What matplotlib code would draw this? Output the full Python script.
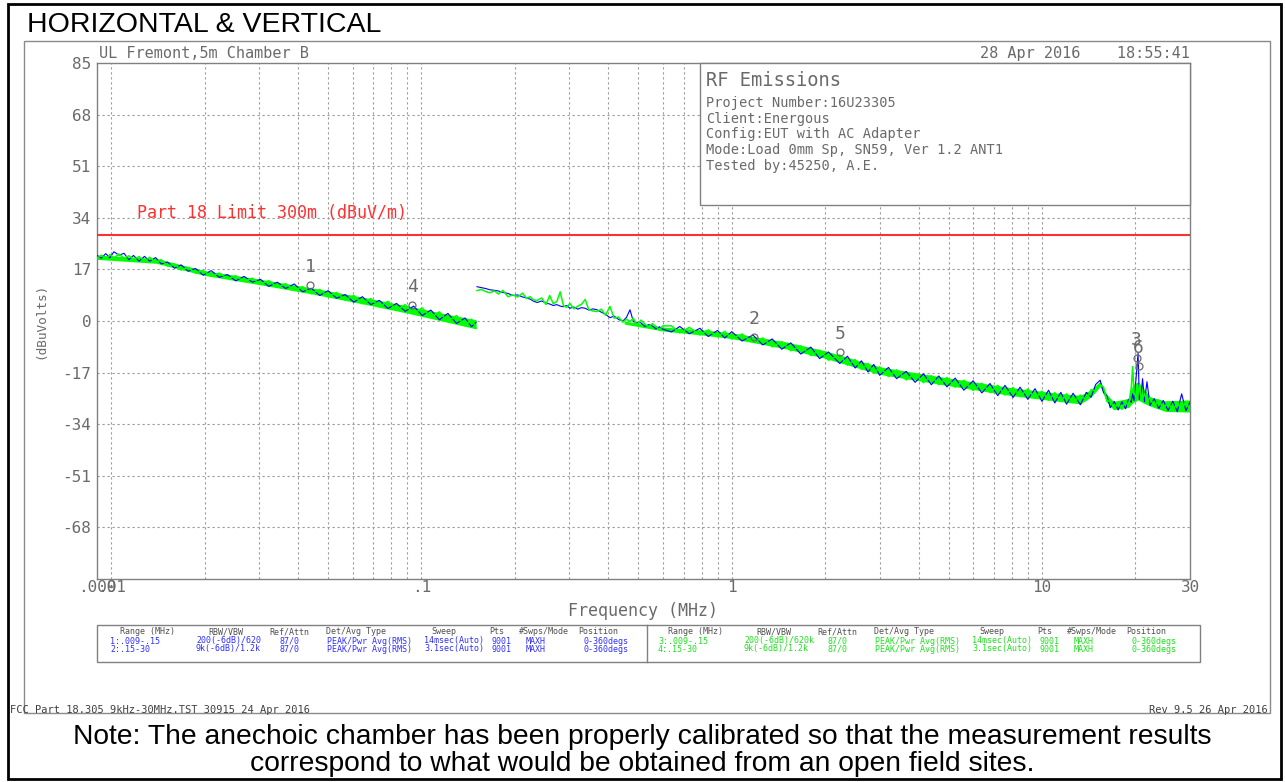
import matplotlib
matplotlib.use("Agg")
from matplotlib import pyplot as plt
from matplotlib.patches import Rectangle
from matplotlib.ticker import NullLocator

W, H = 1285, 782
MONO = "DejaVu Sans Mono"
GREY = "#6a6a6a"
BLUE = "#0000ff"
GREEN = "#00ff00"
plt.rcParams["font.family"] = MONO

# ---- trace data (MHz, dBuV) ----
# range 1 : .009 - .15 MHz
f1 = [0.0090, 0.0093, 0.0096, 0.0099, 0.0102, 0.0106, 0.0110, 0.0114, 0.0118, 0.0123,
      0.0128, 0.0133, 0.0139, 0.0145, 0.0152, 0.0160, 0.0168, 0.0177, 0.0187, 0.0198,
      0.0210, 0.0223, 0.0237, 0.0252, 0.0268, 0.0285, 0.0303, 0.0322, 0.0343, 0.0365,
      0.0389, 0.0414, 0.0441, 0.0470, 0.0500, 0.0533, 0.0568, 0.0605, 0.0645, 0.0687,
      0.0732, 0.0780, 0.0831, 0.0886, 0.0944, 0.1006, 0.1072, 0.1142, 0.1217, 0.1297,
      0.1382, 0.1450, 0.1500]
blue1 = [21.6, 20.7, 22.2, 20.8, 22.8, 21.7, 22.3, 20.2, 21.6, 19.7,
         21.3, 19.7, 20.9, 18.8, 19.4, 17.4, 18.5, 16.4, 17.3, 15.1,
         16.6, 14.4, 15.3, 13.2, 14.7, 12.8, 13.7, 11.4, 12.8, 10.7,
         12.2, 9.6, 10.8, 8.4, 10.0, 7.5, 8.7, 6.2, 8.0, 5.4,
         6.8, 4.1, 5.8, 3.2, 4.9, 1.8, 3.6, 0.4, 2.5, -0.8,
         1.0, -1.9, -0.4]
green1 = [20.6, 21.7, 20.4, 21.9, 20.8, 22.1, 20.6, 21.5, 20.3, 21.2,
          19.8, 21.0, 19.3, 20.2, 18.1, 18.7, 16.8, 17.6, 15.8, 16.6,
          14.8, 15.8, 14.0, 14.9, 13.0, 14.1, 12.1, 13.3, 11.1, 12.3,
          10.1, 11.3, 9.0, 10.4, 8.0, 9.4, 6.9, 8.4, 5.7, 7.4,
          4.7, 6.5, 3.5, 5.4, 2.4, 4.3, 1.2, 3.0, -0.2, 1.8,
          -1.6, 0.6, -2.3]
f1_band = [0.0090, 0.0140, 0.0200, 0.0300, 0.0450, 0.0650, 0.0900, 0.1200, 0.1500]
band1_lo = [20.3, 19.0, 15.0, 12.0, 8.8, 5.6, 2.6, -0.3, -2.6]
band1_hi = [21.7, 20.6, 16.6, 13.8, 10.8, 7.8, 5.0, 2.3, 0.4]

# range 2 : .15 - 30 MHz
f2 = [0.151, 0.156, 0.161, 0.166, 0.172, 0.177, 0.183, 0.190, 0.197, 0.204,
      0.212, 0.218, 0.224, 0.230, 0.236, 0.244, 0.252, 0.259, 0.266, 0.273,
      0.280, 0.287, 0.294, 0.301, 0.310, 0.319, 0.328, 0.337, 0.346, 0.357,
      0.368, 0.380, 0.392, 0.405, 0.418, 0.432, 0.446, 0.458, 0.470, 0.482,
      0.495, 0.510, 0.525, 0.540, 0.555, 0.570, 0.585, 0.600, 0.64, 0.68,
      0.73, 0.79, 0.84, 0.90, 0.95, 1.00, 1.08, 1.17, 1.26, 1.35,
      1.45, 1.55, 1.67, 1.80, 1.92, 2.05, 2.23, 2.36, 2.50, 2.62,
      2.75, 2.87, 3.00, 3.20, 3.40, 3.65, 3.90, 4.15, 4.40, 4.65,
      4.94, 5.25, 5.60, 6.00, 6.40, 6.80, 7.20, 7.60, 8.07, 8.50,
      9.00, 9.50, 10.0, 10.5, 11.0, 11.5, 12.0, 12.6, 13.3, 13.9,
      14.4, 14.9, 15.4, 15.8, 16.2, 16.6, 17.1, 17.6, 18.1, 18.6,
      19.0, 19.4, 19.6, 19.8, 20.1, 20.4, 20.6, 20.9, 21.1, 21.4,
      21.8, 22.3, 23.0, 23.8, 24.6, 25.5, 26.4, 27.3, 28.2, 29.1,
      30.0]
blue2 = [11.3, 11.0, 10.7, 10.3, 10.1, 9.9, 9.4, 9.1, 8.4, 8.6,
         7.9, 7.6, 7.2, 6.5, 6.1, 6.6, 5.9, 5.6, 5.1, 5.4,
         4.9, 4.7, 5.1, 4.2, 4.6, 3.9, 4.4, 4.2, 3.6, 4.0,
         3.7, 2.9, 2.2, 1.1, 1.6, 0.5, 0.0, 1.2, 3.7, -0.2,
         -0.5, -0.6, -1.8, -1.2, -1.6, -2.6, -1.9, -2.7, -3.6, -1.8,
         -4.2, -2.4, -5.1, -3.1, -5.6, -3.5, -6.6, -4.6, -7.9, -5.9,
         -9.3, -7.2, -10.9, -8.6, -12.4, -10.2, -14.0, -11.6, -15.5, -13.1,
         -16.8, -14.3, -17.9, -15.3, -19.0, -16.6, -20.2, -17.4, -21.0, -18.1,
         -21.7, -18.8, -22.8, -19.7, -23.7, -20.6, -24.6, -21.2, -25.2, -21.8,
         -25.8, -22.3, -26.5, -22.8, -27.0, -23.5, -27.4, -23.8, -27.6, -23.5,
         -25.1, -20.9, -19.5, -23.6, -24.6, -28.6, -26.5, -29.3, -26.6, -28.9,
         -25.8, -26.8, -24.0, -26.2, -19.0, -10.6, -25.9, -23.4, -19.0, -26.6,
         -20.0, -27.8, -25.6, -28.8, -26.2, -29.5, -26.4, -29.9, -24.0, -29.6,
         -26.7]
green2 = [10.0, 10.4, 9.7, 9.3, 9.9, 8.9, 10.1, 8.0, 8.6, 7.9,
          9.2, 7.4, 8.0, 6.9, 6.8, 7.6, 5.4, 8.4, 5.7, 6.4,
          9.6, 5.0, 4.5, 5.8, 4.0, 4.9, 5.5, 7.1, 3.8, 3.3,
          3.1, 3.9, 1.9, 4.8, 0.9, 1.3, -0.4, 0.6, -0.2, 0.9,
          -1.2, 0.3, -1.0, -2.0, -0.9, -1.8, -2.9, -1.6, -1.6, -3.9,
          -2.1, -4.6, -2.9, -5.2, -3.4, -5.9, -4.3, -7.0, -5.6, -8.5,
          -6.8, -9.8, -8.2, -11.4, -9.6, -12.9, -11.2, -14.5, -12.7, -15.9,
          -14.0, -17.2, -15.1, -18.3, -16.1, -19.4, -17.3, -20.3, -18.0, -21.0,
          -18.6, -21.8, -19.5, -22.9, -20.5, -23.6, -21.2, -24.4, -21.9, -24.9,
          -22.4, -25.5, -23.1, -26.1, -23.6, -26.5, -24.0, -26.9, -24.4, -26.1,
          -22.6, -23.0, -21.0, -21.8, -26.6, -26.1, -29.0, -26.7, -29.1, -26.4,
          -28.1, -22.0, -15.0, -23.5, -25.8, -24.0, -21.0, -26.1, -25.6, -23.9,
          -26.7, -25.2, -28.2, -26.1, -29.0, -26.6, -29.6, -26.8, -29.5, -26.4,
          -29.4]
f2_band = [0.45, 0.60, 0.80, 1.0, 1.5, 2.0, 3.0, 5.0, 8.0, 12.0, 13.3,
           14.4, 15.4, 16.2, 17.0, 19.0, 19.6, 20.4, 21.2, 22.3, 25.0, 30.0]
band2_lo = [-1.0, -3.3, -4.6, -5.8, -9.2, -12.3, -17.6, -21.3, -24.6, -26.8, -27.3,
            -25.0, -21.6, -26.8, -29.2, -28.5, -27.0, -26.0, -27.0, -28.0, -29.8, -30.0]
band2_hi = [0.0, -2.0, -2.9, -3.9, -6.9, -9.8, -15.1, -18.8, -22.0, -24.1, -24.5,
            -22.6, -19.8, -24.3, -26.5, -25.5, -21.0, -20.0, -22.0, -25.0, -26.3, -26.0]

limit_level = 28.2
limit_label = "Part 18 Limit 300m (dBuV/m)"

marker_names = ["1", "2", "3", "4", "5", "6"]
marker_freqs = [0.0437, 1.18, 20.2, 0.0933, 2.23, 20.5]
marker_levels = [11.9, -5.3, -12.3, 5.3, -10.2, -14.8]

ytick_vals = [-68, -51, -34, -17, 0, 17, 34, 51, 68, 85]
xtick_vals = [0.009, 0.01, 0.1, 1, 10, 30]
xtick_labels = [".009", ".01", ".1", "1", "10", "30"]

info_lines = ["Project Number:16U23305", "Client:Energous", "Config:EUT with AC Adapter",
              "Mode:Load 0mm Sp, SN59, Ver 1.2 ANT1", "Tested by:45250, A.E."]

table_header = ["Range (MHz)", "RBW/VBW", "Ref/Attn", "Det/Avg Type", "Sweep", "Pts",
                "#Swps/Mode", "Position"]
table_rows_left = [["1:.009-.15", "200(-6dB)/620", "87/0", "PEAK/Pwr Avg(RMS)",
                    "14msec(Auto)", "9001", "MAXH", "0-360degs"],
                   ["2:.15-30", "9k(-6dB)/1.2k", "87/0", "PEAK/Pwr Avg(RMS)",
                    "3.1sec(Auto)", "9001", "MAXH", "0-360degs"]]
table_rows_right = [["3:.009-.15", "200(-6dB)/620k", "87/0", "PEAK/Pwr Avg(RMS)",
                     "14msec(Auto)", "9001", "MAXH", "0-360degs"],
                    ["4:.15-30", "9k(-6dB)/1.2k", "87/0", "PEAK/Pwr Avg(RMS)",
                     "3.1sec(Auto)", "9001", "MAXH", "0-360degs"]]

fig = plt.figure(figsize=(W / 100, H / 100), dpi=100)
fig.patch.set_facecolor("white")

# ---- main plot ----
ax = fig.add_axes([97 / W, 1 - 579 / H, 1093 / W, 516 / H], zorder=1)
ax.set_xscale("log")
ax.set_xlim(0.009, 30)
ax.set_ylim(-85, 85)
for s in ax.spines.values():
    s.set_color("#808080")
    s.set_linewidth(1)

# dotted grid at every 1-9 decade step
grid_f = [k * 10.0 ** e for e in (-2, -1, 0, 1) for k in range(1, 10) if k * 10.0 ** e < 30]
for gf in grid_f:
    ax.axvline(gf, color="#9a9a9a", lw=0.8, ls=(0, (2, 2.5)), zorder=0)
for yv in ytick_vals[:-1]:
    ax.axhline(yv, color="#9a9a9a", lw=0.8, ls=(0, (2, 2.5)), zorder=0)

ax.set_xticks(xtick_vals, xtick_labels)
ax.xaxis.set_minor_locator(NullLocator())
ax.set_yticks(ytick_vals, [str(v) for v in ytick_vals])
ax.tick_params(axis="both", length=0, labelsize=11.5, labelcolor=GREY)
ax.tick_params(axis="x", pad=1)
ax.tick_params(axis="y", pad=4)
ax.set_xlabel("Frequency (MHz)", fontsize=12, color=GREY, labelpad=5)
ax.set_ylabel("(dBuVolts)", fontsize=9.2, color=GREY, labelpad=11)

# band first, then the two max-hold traces on top
ax.fill_between(f1_band, band1_lo, band1_hi, color=GREEN, lw=0, zorder=2)
ax.plot(f1, blue1, color=BLUE, lw=0.8, zorder=3)
ax.plot(f1, green1, color=GREEN, lw=1.1, zorder=4)
ax.fill_between(f2_band, band2_lo, band2_hi, color=GREEN, lw=0, zorder=2)
ax.plot(f2, blue2, color=BLUE, lw=0.8, zorder=3)
ax.plot(f2, green2, color=GREEN, lw=1.1, zorder=4)

ax.axhline(limit_level, color="#ff3030", lw=1.5, zorder=5)
ax.text(0.0121, 35.6, limit_label, color="#ff3030", fontsize=12, ha="left", va="center")

for name, mf, ml in zip(marker_names, marker_freqs, marker_levels):
    ax.plot(mf, ml, marker="o", ms=5, mfc="none", mec=GREY, mew=0.9, zorder=6)
    ax.text(mf, ml + 3.0, name, fontsize=13, color=GREY, ha="center", va="bottom", zorder=6)

# ---- page overlay in pixel coordinates ----
ov = fig.add_axes([0, 0, 1, 1], zorder=2)
ov.set_xlim(0, W)
ov.set_ylim(H, 0)
ov.axis("off")
ov.patch.set_alpha(0)

ov.add_patch(Rectangle((8, 4), 1273, 775, fill=False, ec="black", lw=2))
ov.add_patch(Rectangle((24, 41), 1246, 672, fill=False, ec="#8a8a8a", lw=1))

ov.text(27, 32, "HORIZONTAL & VERTICAL", family="Liberation Sans", fontsize=20.5,
        color="black", ha="left", va="baseline")
ov.text(99, 58, "UL Fremont,5m Chamber B", fontsize=11, color=GREY, ha="left", va="baseline")
ov.text(1190, 58, "28 Apr 2016    18:55:41", fontsize=11, color=GREY, ha="right", va="baseline")

# info box
ov.add_patch(Rectangle((700, 63), 490, 142, fc="white", ec="#808080", lw=1))
ov.text(706, 86, "RF Emissions", fontsize=13.5, color=GREY, ha="left", va="baseline")
for i, line in enumerate(info_lines):
    ov.text(706, 107 + i * 15.7, line, fontsize=9.8, color=GREY, ha="left", va="baseline")

# settings table
ov.add_patch(Rectangle((97, 625), 1103, 37, fill=False, ec="#808080", lw=1))
ov.plot([647, 647], [625, 662], color="#808080", lw=1)
head_x = [147, 226, 289, 356, 444, 497, 544, 598]
row_x = [110, 196, 280, 327, 424, 492, 526, 583]
for off, rows, col in ((0, table_rows_left, "#3030ff"), (548, table_rows_right, "#20e020")):
    for hx, h in zip(head_x, table_header):
        ov.text(hx + off, 632, h, fontsize=6, color="#505050", ha="center", va="center")
    for r, row in enumerate(rows):
        for rx, cell in zip(row_x, row):
            ov.text(rx + off, 641 + r * 8, cell, fontsize=6, color=col, ha="left", va="center")

ov.text(10, 710, "FCC Part 18.305 9kHz-30MHz.TST 30915 24 Apr 2016", fontsize=7.5,
        color="#404040", ha="left", va="center")
ov.text(1268, 710, "Rev 9.5 26 Apr 2016", fontsize=7.5, color="#404040", ha="right", va="center")

note_font = ["Liberation Sans Narrow", "Liberation Sans"]
ov.text(642, 744, "Note: The anechoic chamber has been properly calibrated so that the measurement results",
        family=note_font, fontsize=20.3, color="black", ha="center", va="baseline")
ov.text(642, 771, "correspond to what would be obtained from an open field sites.",
        family=note_font, fontsize=20.3, color="black", ha="center", va="baseline")

fig.savefig("out.png", dpi=100)
